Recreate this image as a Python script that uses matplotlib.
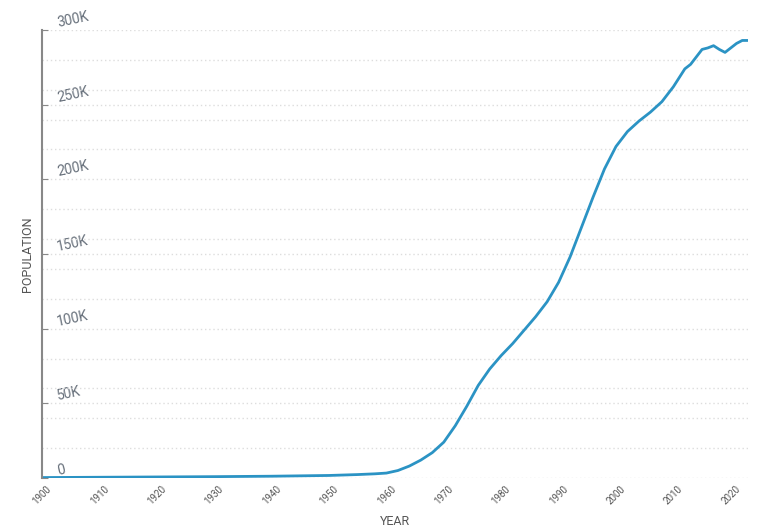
import matplotlib
matplotlib.use("Agg")
import matplotlib.pyplot as plt
from matplotlib.ticker import FuncFormatter

years = [1900,1910,1920,1930,1940,1950,1955,1958,1960,1962,1964,1966,1968,1970,1972,1974,1976,1978,1980,1982,1984,1986,1988,1990,1992,1994,1996,1998,2000,2002,2004,2006,2008,2010,2012,2013,2015,2016,2017,2018,2019,2020,2021,2022,2023]
population = [300,500,700,900,1200,1700,2300,2800,3300,5000,8000,12000,17000,24000,35000,48000,62000,73000,82000,90000,99000,108000,118000,131000,148000,168000,188000,207000,222000,232000,239000,245000,252000,262000,274000,277000,287000,288000,289500,287000,285000,288000,291000,293000,293000]

plt.rcParams['font.family'] = ['Roboto', 'DejaVu Sans']
fig = plt.figure(figsize=(7.72, 5.32), dpi=100)
ax = fig.add_axes([42/772, 1-478/532, 706/772, 448/532])
ax.plot(years, population, color='#2b93c4', lw=2)
ax.set_xlim(1900, 2023)
ax.set_ylim(0, 300000)
ax.set_xticks(range(1900, 2021, 10))
ax.set_yticks(range(0, 300001, 20000), minor=True)
ax.set_yticks(range(0, 300001, 50000))
ax.yaxis.set_major_formatter(FuncFormatter(lambda v, p: '0' if v == 0 else f'{int(v/1000)}K'))
ax.grid(axis='y', which='both', color='#dddddd', linestyle=(0, (1, 2)), lw=1)
for s in ['top', 'right', 'bottom']:
    ax.spines[s].set_visible(False)
ax.spines['left'].set_color('#888888')
ax.spines['left'].set_linewidth(1.5)
ax.tick_params(axis='y', which='major', direction='in', length=4, pad=-10, colors='#888888', labelcolor='#666f7a', labelsize=10)
ax.tick_params(axis='y', which='minor', length=0)
for lab in ax.get_yticklabels():
    lab.set_horizontalalignment('left')
    lab.set_verticalalignment('bottom')
    lab.set_rotation(12)
ax.tick_params(axis='x', length=0, labelsize=7, labelcolor='#555555', pad=4)
for lab in ax.get_xticklabels():
    lab.set_rotation(45)
    lab.set_horizontalalignment('center')
ax.set_xlabel('YEAR', fontsize=9, color='#555555', labelpad=6)
ax.set_ylabel('POPULATION', fontsize=9, color='#555555', labelpad=2)
fig.savefig('out.png', dpi=100)
